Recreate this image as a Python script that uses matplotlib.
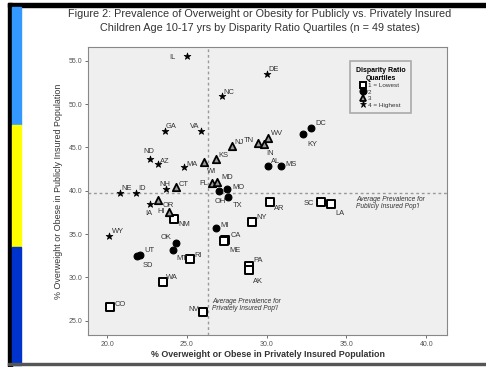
import matplotlib
matplotlib.use("Agg")
import matplotlib.pyplot as plt
from matplotlib.patches import Rectangle
from matplotlib.lines import Line2D

plt.rcParams['font.family'] = ['Liberation Sans', 'DejaVu Sans']

# ---- data ----
states = ["IL", "DE", "NC", "GA", "VA", "ND", "AZ", "MA", "NE", "ID", "NH", "IA", "WY",
          "WI", "KS", "NJ", "TN", "WV", "IN", "FL", "MD", "CT", "OR", "HI",
          "DC", "KY", "AL", "MS", "MO", "OH", "TX", "MI", "OK", "MT", "UT", "SD",
          "AR", "SC", "LA", "NY", "CA", "ME", "PA", "AK", "RI", "WA", "CO", "NV", "NM"]
private_pct = [25.0, 30.0, 27.2, 23.6, 25.9, 22.7, 23.2, 24.8, 20.8, 21.8, 23.7, 22.7, 20.1,
               26.1, 26.8, 27.8, 29.45, 30.1, 29.8, 26.6, 26.9, 24.3, 23.2, 23.9,
               32.8, 32.3, 30.1, 30.9, 27.5, 27.0, 27.6, 26.85, 24.3, 24.1, 22.05, 21.85,
               30.2, 33.4, 34.05, 29.1, 27.4, 27.3, 28.9, 28.9, 25.2, 23.5, 20.2, 26.0, 24.2]
public_pct = [55.6, 53.5, 50.9, 46.9, 46.9, 43.7, 43.1, 42.7, 39.8, 39.8, 40.2, 38.5, 34.8,
              43.3, 43.7, 45.2, 45.5, 46.1, 45.4, 40.85, 41.0, 40.4, 38.9, 37.6,
              47.3, 46.5, 42.85, 42.9, 40.2, 40.0, 39.3, 35.7, 34.0, 33.2, 32.6, 32.45,
              38.7, 38.7, 38.5, 36.4, 34.3, 34.2, 31.3, 30.85, 32.15, 29.5, 26.6, 26.0, 36.7]
quartile = [4, 4, 4, 4, 4, 4, 4, 4, 4, 4, 4, 4, 4,
            3, 3, 3, 3, 3, 3, 3, 3, 3, 3, 3,
            2, 2, 2, 2, 2, 2, 2, 2, 2, 2, 2, 2,
            1, 1, 1, 1, 1, 1, 1, 1, 1, 1, 1, 1, 1]
quartile_labels = ["1 = Lowest", "2", "3", "4 = Highest"]
avg_private = 26.3
avg_public = 39.7
x_ticks = [20, 25, 30, 35, 40]
y_ticks = [25, 30, 35, 40, 45, 50, 55]

# label offsets (points) for state names
offsets = {
    "IL": (-8, -1, "right"), "DE": (1, 3, "left"), "NC": (1, 3, "left"), "GA": (1, 3, "left"),
    "VA": (-1, 3, "right"), "ND": (-1, 5, "center"), "AZ": (1, 2, "left"), "MA": (2, 2, "left"),
    "NE": (1, 3, "left"), "ID": (2, 3, "left"), "NH": (-1, 3, "center"), "IA": (-1, -7, "center"),
    "WY": (2, 3, "left"), "WI": (2, -7, "left"), "KS": (2, 2, "left"), "NJ": (2, 2, "left"),
    "TN": (-3, 2, "right"), "WV": (2, 3, "left"), "IN": (2, -7, "left"), "FL": (-3, 0, "right"),
    "MD": (3, 3, "left"), "CT": (2, 2, "left"), "OR": (3, -4, "left"), "HI": (-3, 0, "right"),
    "DC": (3, 3, "left"), "KY": (3, -7, "left"), "AL": (2, 3, "left"), "MS": (3, 1, "left"),
    "MO": (4, 1, "left"), "OH": (1, -8, "center"), "TX": (3, -6, "left"), "MI": (3, 2, "left"),
    "OK": (-3, 4, "right"), "MT": (3, -6, "left"), "UT": (3, 3, "left"), "SD": (4, -7, "left"),
    "AR": (3, -5, "left"), "SC": (-5, -1, "right"), "LA": (3, -7, "left"), "NY": (3, 3, "left"),
    "CA": (4, 3, "left"), "ME": (4, -7, "left"), "PA": (3, 4, "left"), "AK": (3, -8, "left"),
    "RI": (3, 2, "left"), "WA": (2, 3, "left"), "CO": (3, 2, "left"), "NV": (-3, 2, "right"),
    "NM": (3, -4, "left"),
}

styles = {
    1: dict(marker="s", facecolor="white", edgecolor="black", size=26, lw=1.4),
    2: dict(marker="o", facecolor="black", edgecolor="black", size=24, lw=0.8),
    3: dict(marker="^", facecolor="#9a9a9a", edgecolor="black", size=28, lw=1.3),
    4: dict(marker="*", facecolor="black", edgecolor="black", size=26, lw=0.5),
}

fig = plt.figure(figsize=(4.86, 3.67), dpi=100)
fig.patch.set_facecolor("white")

# decorative frame / colour bar
W, H = 486.0, 367.0
def rect(x0, y0, x1, y1, color):
    fig.patches.append(Rectangle((x0 / W, 1 - y1 / H), (x1 - x0) / W, (y1 - y0) / H,
                                 transform=fig.transFigure, color=color, zorder=0))
rect(8, 3, 486, 7, "black")
rect(8, 3, 12, 367, "black")
rect(12, 7, 21, 125, "#3399ff")
rect(12, 125, 21, 247, "#ffff00")
rect(12, 247, 21, 365, "#0033cc")
rect(8, 363, 486, 365, "#555555")

fig.text(0.535, 0.962, "Figure 2: Prevalence of Overweight or Obesity for Publicly vs. Privately Insured",
         ha="center", va="center", fontsize=7.8, color="#333333")
fig.text(0.535, 0.925, "Children Age 10-17 yrs by Disparity Ratio Quartiles (n = 49 states)",
         ha="center", va="center", fontsize=7.8, color="#333333")

ax = fig.add_axes([88 / W, 1 - 335 / H, (447 - 88) / W, (335 - 47) / H])
ax.set_facecolor("#efefef")
for s in ax.spines.values():
    s.set_color("#888888")
    s.set_linewidth(0.8)

for q in [1, 2, 3, 4]:
    st = styles[q]
    xs = [x for x, qq in zip(private_pct, quartile) if qq == q]
    ys = [y for y, qq in zip(public_pct, quartile) if qq == q]
    ax.scatter(xs, ys, marker=st["marker"], s=st["size"], facecolor=st["facecolor"],
               edgecolor=st["edgecolor"], linewidths=st["lw"], zorder=3)

for name, x, y in zip(states, private_pct, public_pct):
    dx, dy, ha = offsets[name]
    ax.annotate(name, (x, y), xytext=(dx, dy), textcoords="offset points",
                ha=ha, va="center", fontsize=5.4, color="#333333", zorder=4)

ax.axvline(avg_private, color="#999999", ls=(0, (2, 2)), lw=1.0, zorder=1)
ax.axhline(avg_public, color="#999999", ls=(0, (2, 2)), lw=1.0, zorder=1)
ax.text(35.6, avg_public - 0.35, "Average Prevalence for\nPublicly Insured Pop'l",
        fontsize=4.8, style="italic", color="#333333", va="top", ha="left", linespacing=0.95)
ax.text(26.6, 27.65, "Average Prevalence for\nPrivately Insured Pop'l",
        fontsize=4.8, style="italic", color="#333333", va="top", ha="left", linespacing=0.95)

ax.set_xlim(18.8, 41.3)
ax.set_ylim(23.35, 56.6)
ax.set_xticks(x_ticks)
ax.set_xticklabels([f"{v:.1f}" for v in x_ticks])
ax.set_yticks(y_ticks)
ax.set_yticklabels([f"{v:.1f}" for v in y_ticks])
ax.tick_params(labelsize=5, colors="#555555", length=2, width=0.6, pad=2)
ax.set_xlabel("% Overweight or Obese in Privately Insured Population", fontsize=6.4,
              fontweight="bold", color="#333333", labelpad=2)
ax.set_ylabel("% Overweight or Obese in Publicly Insured Population", fontsize=6.4,
              color="#333333", labelpad=4)

handles = []
for q in [1, 2, 3, 4]:
    st = styles[q]
    handles.append(Line2D([], [], ls="none", marker=st["marker"], markersize=5,
                          markerfacecolor=st["facecolor"], markeredgecolor=st["edgecolor"],
                          markeredgewidth=st["lw"]))
leg = ax.legend(handles, quartile_labels, title="Disparity Ratio\nQuartiles",
                loc="upper left", bbox_to_anchor=(0.73, 0.951), fontsize=4.6, title_fontsize=5,
                frameon=True, fancybox=False, edgecolor="#999999", facecolor="#efefef",
                handlelength=0.8, handletextpad=0.3, labelspacing=0.15, borderpad=0.9,
                borderaxespad=0)
leg.get_title().set_fontweight("bold")
leg.get_title().set_ha("center")
leg.get_frame().set_linewidth(1.2)
for t in leg.get_texts():
    t.set_color("#333333")

fig.savefig("out.png", dpi=100)
